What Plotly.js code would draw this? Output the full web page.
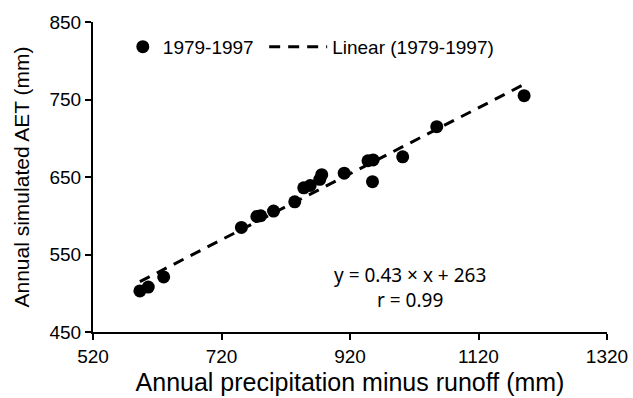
<!DOCTYPE html>
<html>
<head>
<meta charset="utf-8">
<script src="https://cdn.plot.ly/plotly-3.0.1.min.js"></script>
<style>html,body{margin:0;padding:0;background:#fff;}#chart{width:633px;height:398px;}</style>
</head>
<body>
<div id="chart"></div>
<script>
// Annual precipitation minus runoff (mm)
const pMinusR = [593, 606, 630, 751, 775, 781, 801, 834, 848, 858, 873, 876, 911, 948, 956, 955, 1002, 1055, 1191];
// Annual simulated AET (mm)
const aet = [503, 508, 521, 585, 599, 600, 606, 618, 636, 639, 647, 653, 655, 671, 672, 644, 676, 715, 755];
const seriesName = "1979-1997";
const fitName = "Linear (1979-1997)";
const eqText = "y = 0.43 × x + 263";
const rText = "r = 0.99";
const xTicks = [520, 720, 920, 1120, 1320];
const yTicks = [450, 550, 650, 750, 850];

// least-squares trendline of the data
const n = pMinusR.length;
const mx = pMinusR.reduce((a, b) => a + b, 0) / n;
const my = aet.reduce((a, b) => a + b, 0) / n;
let sxy = 0, sxx = 0;
for (let i = 0; i < n; i++) { sxy += (pMinusR[i] - mx) * (aet[i] - my); sxx += (pMinusR[i] - mx) ** 2; }
const slope = sxy / sxx, intercept = my - slope * mx;
const fitX = [Math.min(...pMinusR), Math.max(...pMinusR)];
const fitY = fitX.map(v => slope * v + intercept);

const data = [
  {x: pMinusR, y: aet, mode: 'markers', type: 'scatter', name: seriesName, legend: 'legend',
   marker: {color: '#000', size: 13}},
  {x: fitX, y: fitY, mode: 'lines', type: 'scatter', name: fitName, legend: 'legend2',
   line: {color: '#000', width: 3, dash: '11px,8px'}}
];

const axisCommon = {
  showgrid: false, zeroline: false, showline: true, linecolor: '#000', linewidth: 2,
  ticks: 'outside', ticklen: 6, tickwidth: 2, tickcolor: '#000',
  tickfont: {family: 'Liberation Sans, Arial', size: 19, color: '#000'}
};
const legendFont = {family: 'Liberation Sans, Arial', size: 19, color: '#000'};

const layout = {
  width: 633, height: 398,
  margin: {l: 93, r: 26, t: 22, b: 66},
  paper_bgcolor: '#fff', plot_bgcolor: '#fff',
  showlegend: true,
  legend: {orientation: 'h', x: 0.058, y: 0.92, xanchor: 'left', yanchor: 'middle',
    font: legendFont, bgcolor: 'rgba(0,0,0,0)', itemwidth: 30},
  legend2: {orientation: 'h', x: 0.333, y: 0.92, xanchor: 'left', yanchor: 'middle',
    font: legendFont, bgcolor: 'rgba(0,0,0,0)', itemwidth: 58},
  xaxis: Object.assign({}, axisCommon, {
    range: [520, 1320], tickvals: xTicks, ticktext: xTicks.map(String),
    title: {text: 'Annual precipitation minus runoff (mm)', standoff: 8,
      font: {family: 'Liberation Sans, Arial', size: 25, color: '#000'}}
  }),
  yaxis: Object.assign({}, axisCommon, {
    range: [450, 850], tickvals: yTicks, ticktext: yTicks.map(String),
    title: {text: 'Annual simulated AET (mm)', standoff: 14,
      font: {family: 'Liberation Sans, Arial', size: 21, color: '#000'}}
  }),
  annotations: [
    {xref: 'x', yref: 'y', x: 1013, y: 507, text: eqText + '<br>' + rText, showarrow: false,
     font: {family: 'Noto Sans, Open Sans', size: 19, color: '#000'}}
  ]
};

Plotly.newPlot('chart', data, layout, {displayModeBar: false, staticPlot: true});
</script>
</body>
</html>
